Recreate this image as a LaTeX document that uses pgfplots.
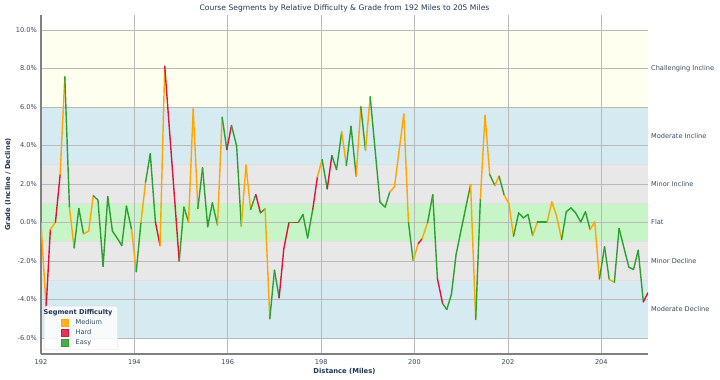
\documentclass[border=0pt]{standalone}
\usepackage{pgfplots}
\pgfplotsset{compat=1.18}
\usepackage{pgfplotstable}
\usepackage{fontspec}
\setmainfont{DejaVu Sans}

\definecolor{medium}{HTML}{FFA500}
\definecolor{hard}{HTML}{DC143C}
\definecolor{easy}{HTML}{2CA02C}
\definecolor{txt}{HTML}{34495E}
\definecolor{ttl}{HTML}{1F3550}
\definecolor{bandY}{HTML}{FFFFF0}
\definecolor{bandB}{HTML}{D5EAF1}
\definecolor{bandG}{HTML}{E8E8E8}
\definecolor{bandF}{HTML}{C8F5C8}

% c = difficulty of the segment that starts at this point: 0 Medium, 1 Hard, 2 Easy
\pgfplotstableread{
x y c
192.00 0.00 0
192.11 -4.43 1
192.20 -0.36 0
192.31 0.02 1
192.41 2.49 0
192.51 7.57 2
192.61 0.76 0
192.71 -1.32 2
192.81 0.73 2
192.91 -0.59 0
193.02 -0.45 0
193.12 1.40 2
193.22 1.16 2
193.33 -2.27 2
193.43 1.35 2
193.53 -0.45 2
193.63 -0.80 2
193.73 -1.20 2
193.83 0.85 2
193.94 -0.36 0
194.04 -2.56 2
194.14 0.00 0
194.24 2.10 2
194.34 3.57 2
194.45 0.03 1
194.55 -1.20 0
194.65 8.12 1
194.96 -2.00 2
195.06 0.80 2
195.16 0.03 0
195.26 5.90 0
195.36 0.73 2
195.46 2.84 2
195.57 -0.22 2
195.67 1.02 2
195.78 -0.14 0
195.88 5.47 2
195.98 3.79 1
196.08 5.04 2
196.19 3.97 2
196.29 -0.19 0
196.39 2.98 0
196.49 0.68 2
196.60 1.45 1
196.70 0.50 2
196.80 0.71 0
196.90 -5.00 2
197.00 -2.48 2
197.10 -3.91 1
197.20 -1.37 1
197.31 0.00 2
197.41 0.00 1
197.51 0.00 2
197.61 0.42 2
197.71 -0.80 2
197.82 0.68 1
197.92 2.37 0
198.02 3.27 2
198.13 1.75 1
198.23 3.48 2
198.33 2.75 2
198.44 4.71 0
198.54 2.96 2
198.64 5.00 2
198.75 2.41 0
198.85 6.01 2
198.95 3.74 0
199.05 6.53 2
199.26 1.06 2
199.37 0.80 2
199.47 1.59 0
199.57 1.85 0
199.77 5.63 0
199.87 0.00 2
199.97 -1.97 0
200.08 -1.09 1
200.16 -0.85 0
200.28 0.00 2
200.39 1.45 2
200.49 -2.91 1
200.60 -4.20 2
200.69 -4.52 2
200.79 -3.74 2
200.89 -1.66 2
201.00 -0.36 2
201.20 1.97 0
201.31 -5.04 2
201.41 1.23 0
201.51 5.57 0
201.61 2.49 2
201.72 1.92 0
201.81 2.41 2
201.92 1.42 0
202.02 0.99 0
202.12 -0.71 2
202.23 0.50 2
202.33 0.24 2
202.43 0.42 2
202.53 -0.68 0
202.63 0.02 2
202.73 0.02 2
202.84 0.02 0
202.94 1.07 0
203.04 0.36 0
203.15 -0.88 2
203.25 0.56 2
203.35 0.76 2
203.45 0.50 2
203.56 0.03 2
203.66 0.56 2
203.76 -0.36 0
203.86 0.03 0
203.96 -2.93 2
204.07 -1.26 2
204.17 -2.96 0
204.28 -3.10 2
204.38 -0.31 2
204.59 -2.32 2
204.69 -2.44 2
204.79 -1.44 2
204.90 -4.12 1
205.00 -3.65 1
}\segdata

\begin{document}
\begin{tikzpicture}
\begin{axis}[
  set layers,
  scale only axis, width=607pt, height=339pt,
  xmin=192, xmax=205, ymin=-6.83, ymax=10.78,
  xtick={192,194,...,204}, ytick={-6,-4,...,10},
  grid=major, grid style={gray!55, line width=0.7pt},
  axis x line*=bottom, axis y line*=left,
  axis line style={gray, line width=1.4pt},
  major tick length=0pt, tick style={draw=none},
  /pgf/number format/assume math mode=true,
  yticklabel={\pgfmathprintnumber[fixed,fixed zerofill,precision=1]{\tick}\%},
  xticklabel={\pgfmathprintnumber[fixed,precision=0,1000 sep={}]{\tick}},
  tick label style={font=\fontsize{6.6}{8}\selectfont, text=txt},
  yticklabel style={inner sep=0pt, xshift=-4pt},
  xticklabel style={inner sep=0pt, yshift=-5pt},
  title={Course Segments by Relative Difficulty \& Grade from 192 Miles to 205 Miles},
  every axis title/.style={at={(rel axis cs:0.5,1.0206)}, anchor=center, font=\fontsize{7.6}{9}\selectfont, text=ttl},
  xlabel={Distance (Miles)},
  ylabel={Grade (Incline / Decline)},
  every axis x label/.style={at={(rel axis cs:0.5,-0.050)}, anchor=center, font=\fontsize{6.8}{8}\selectfont\bfseries, text=ttl},
  every axis y label/.style={at={(rel axis cs:-0.0544,0.5)}, rotate=90, anchor=center, font=\fontsize{6.8}{8}\selectfont\bfseries, text=ttl},
  colormap={difficulty}{rgb255=(255,165,0) rgb255=(220,20,60) rgb255=(44,160,44)},
  point meta min=0, point meta max=2,
  legend cell align=left,
  legend style={at={(rel axis cs:0.005,0.012)}, anchor=south west,
    font=\fontsize{6.6}{8}\selectfont, text=txt,
    draw=black!15, fill=white, fill opacity=0.85, text opacity=1,
    rounded corners=2pt, row sep=-0.4pt, inner xsep=3pt, inner ysep=1.5pt},
]
\begin{pgfonlayer}{axis background}
  \fill[bandY] (axis cs:192,6) rectangle (axis cs:205,10);
  \fill[bandB] (axis cs:192,3) rectangle (axis cs:205,6);
  \fill[bandG] (axis cs:192,1) rectangle (axis cs:205,3);
  \fill[bandF] (axis cs:192,-1) rectangle (axis cs:205,1);
  \fill[bandG] (axis cs:192,-3) rectangle (axis cs:205,-1);
  \fill[bandB] (axis cs:192,-6) rectangle (axis cs:205,-3);
  \draw[black!12, line width=0.6pt] (axis cs:192,3) -- (axis cs:205,3)
     (axis cs:192,1) -- (axis cs:205,1) (axis cs:192,-1) -- (axis cs:205,-1)
     (axis cs:192,-3) -- (axis cs:205,-3);
\end{pgfonlayer}

\addplot[mesh, shader=flat corner, point meta=explicit, line width=1.4pt, line cap=round, line join=round, forget plot]
  table[x=x, y=y, meta=c] {\segdata};

\addlegendimage{empty legend}
\addlegendentry{\hspace{-32pt}\bfseries\color{ttl}Segment Difficulty}
\addlegendimage{legend image code/.code={\path (0pt,0pt) (26pt,0pt); \fill[medium, sharp corners] (13.5pt,-3.6pt) rectangle (21pt,3.6pt);}}
\addlegendentry{Medium}
\addlegendimage{legend image code/.code={\path (0pt,0pt) (26pt,0pt); \fill[hard, sharp corners] (13.5pt,-3.6pt) rectangle (21pt,3.6pt);}}
\addlegendentry{Hard}
\addlegendimage{legend image code/.code={\path (0pt,0pt) (26pt,0pt); \fill[easy, sharp corners] (13.5pt,-3.6pt) rectangle (21pt,3.6pt);}}
\addlegendentry{Easy}

\coordinate (bl) at (rel axis cs:0,0);
\coordinate (tr) at (rel axis cs:1,1);
\coordinate (r1) at (axis cs:205,8);
\coordinate (r2) at (axis cs:205,4.5);
\coordinate (r3) at (axis cs:205,2);
\coordinate (r4) at (axis cs:205,0);
\coordinate (r5) at (axis cs:205,-2);
\coordinate (r6) at (axis cs:205,-4.5);
\end{axis}
\begin{scope}[every node/.style={anchor=west, font=\fontsize{6.6}{8}\selectfont, text=txt, inner sep=0pt, xshift=3pt}]
\node at (r1) {Challenging Incline};
\node at (r2) {Moderate Incline};
\node at (r3) {Minor Incline};
\node at (r4) {Flat};
\node at (r5) {Minor Decline};
\node at (r6) {Moderate Decline};
\end{scope}
\pgfresetboundingbox
\path ([shift={(-41pt,-26pt)}]bl) rectangle ([shift={(72pt,15pt)}]tr);
\end{tikzpicture}
\end{document}
